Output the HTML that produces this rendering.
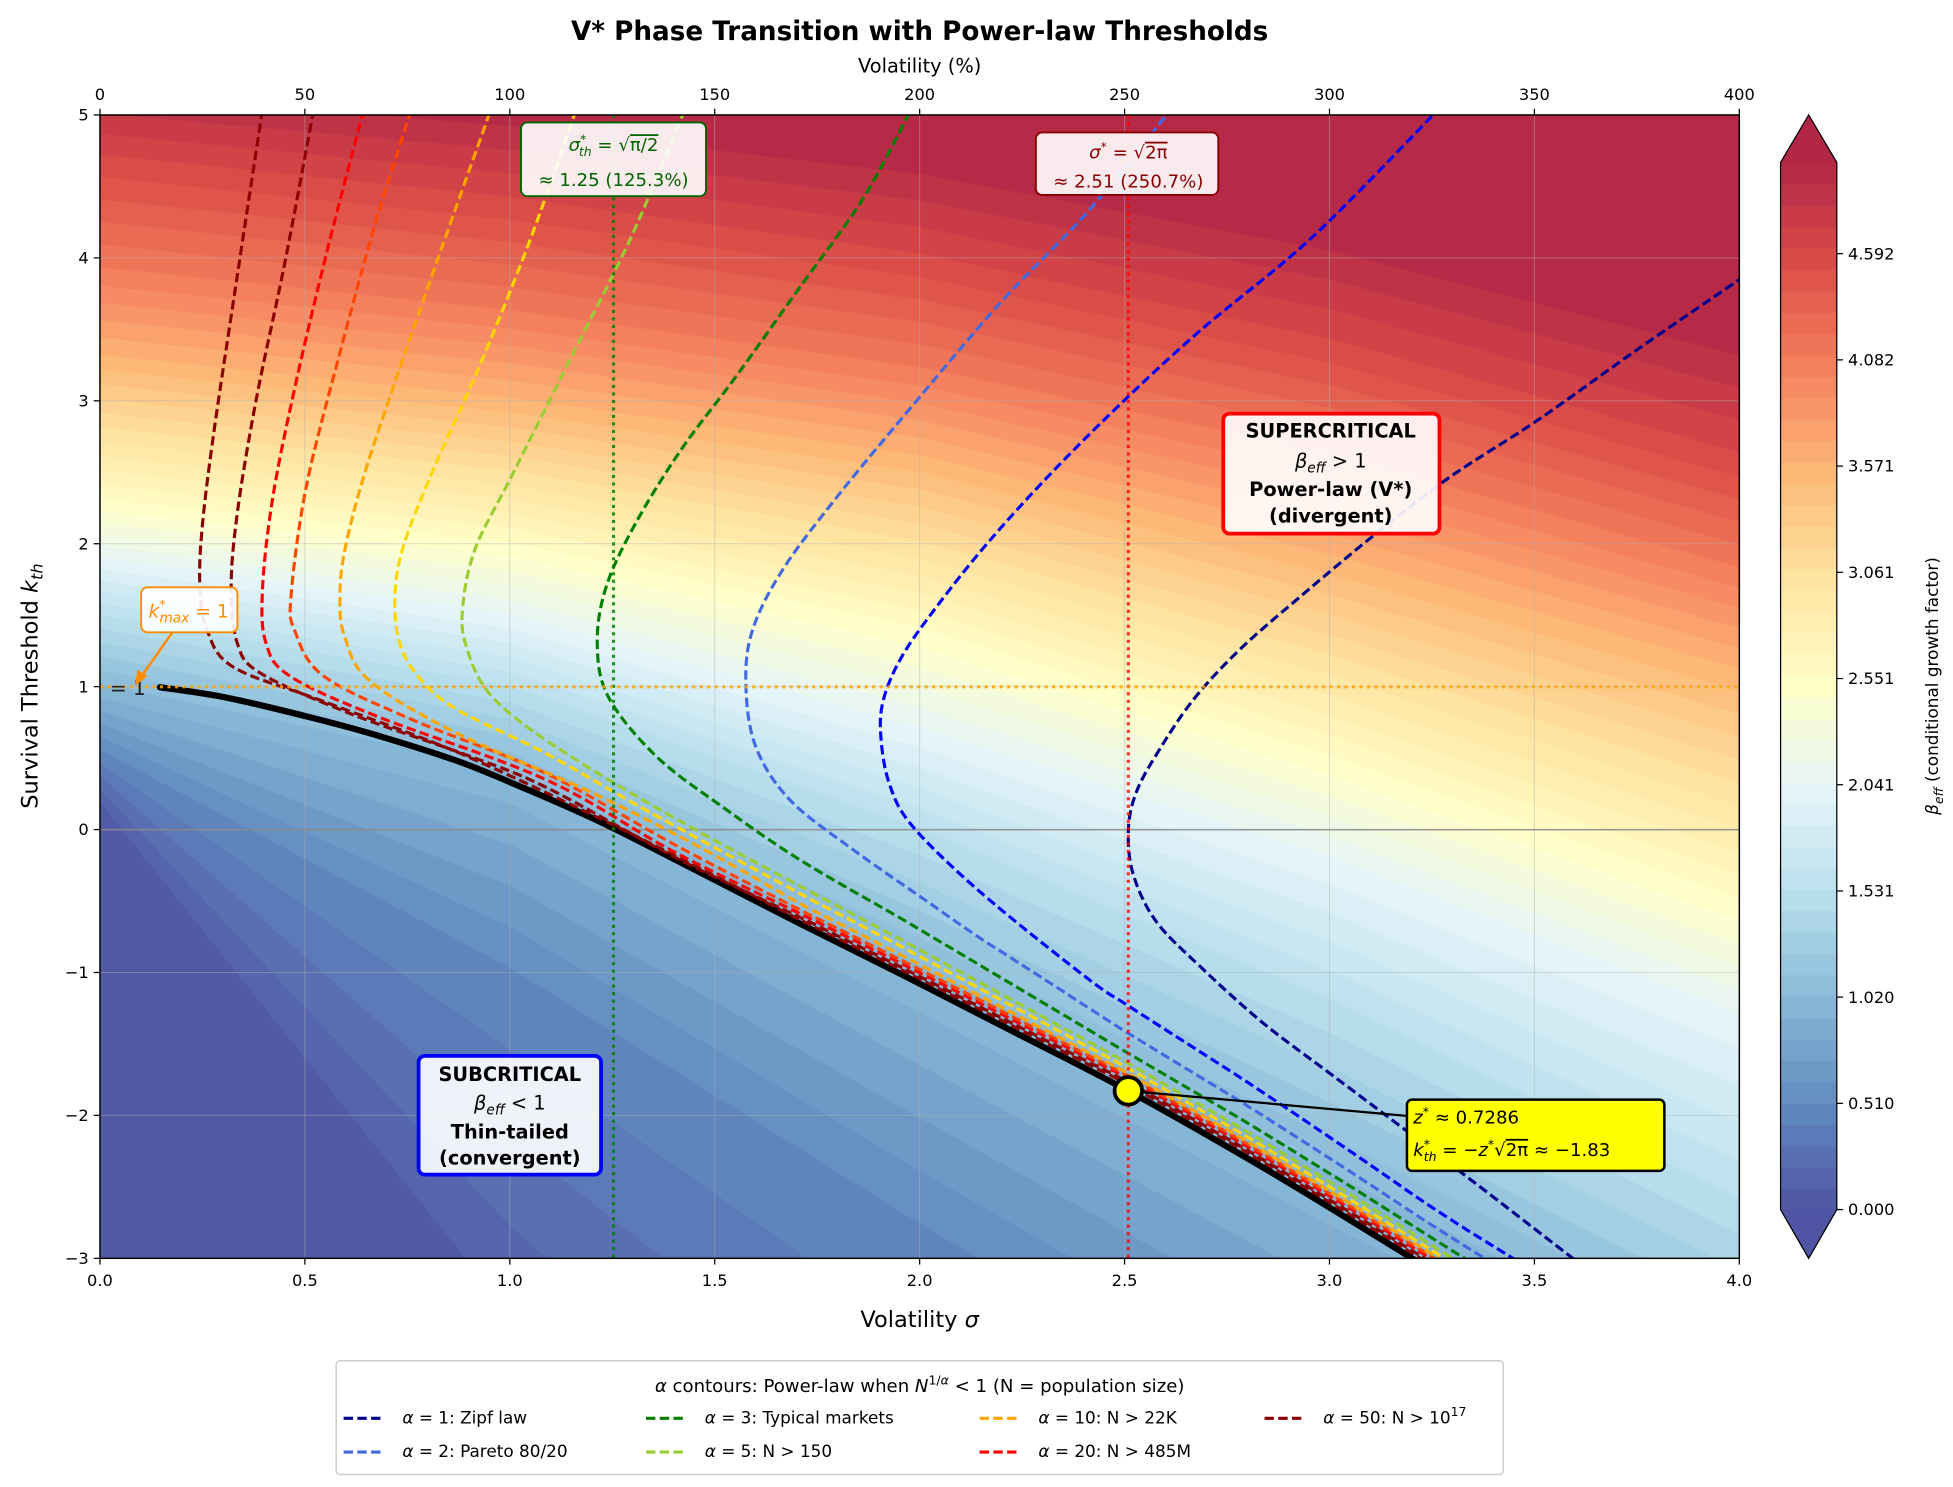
<!DOCTYPE html>
<html><head><meta charset="utf-8">
<style>
html,body{margin:0;padding:0;background:#fff;}
#wrap{position:relative;width:1953px;height:1487px;overflow:hidden;}
#cv{position:absolute;left:100px;top:115px;width:1640px;height:1144px;}
#sv{position:absolute;left:0;top:0;}
text{font-family:"DejaVu Sans","Liberation Sans",sans-serif;}
</style></head><body>
<div id="wrap">
<canvas id="cv" width="1640" height="1144"></canvas>
<svg id="sv" width="1953" height="1487" viewBox="0 0 1563 1190" preserveAspectRatio="none" xmlns="http://www.w3.org/2000/svg">
<defs><clipPath id="pc"><rect x="80" y="92" width="1312" height="915"/></clipPath></defs>
<g id="grid" stroke="#b0b0b0" stroke-opacity="0.45" stroke-width="0.8"></g>
<line x1="80" y1="664" x2="1392" y2="664" stroke="#888" stroke-width="1.3" opacity="0.8"/>
<g clip-path="url(#pc)" id="curves"></g>
<g clip-path="url(#pc)">
<line x1="491" y1="92" x2="491" y2="1007" stroke="#008000" stroke-width="2.5" stroke-dasharray="2.5,3.5" opacity="0.85"/>
<line x1="903" y1="92" x2="903" y2="1007" stroke="#ff0000" stroke-width="2.5" stroke-dasharray="2.5,3.5" opacity="0.8"/>
<line x1="80" y1="549.6" x2="1392" y2="549.6" stroke="#ffa500" stroke-width="2.5" stroke-dasharray="2.5,3.5" opacity="0.85"/>
<text x="88" y="556" font-size="16" fill="#222">= 1</text>
</g>
<rect x="80" y="92" width="1312" height="915" fill="none" stroke="#000" stroke-width="1.2"/>
<g id="ticks" font-size="13" fill="#000"></g>
<text x="736" y="32" font-size="21" font-weight="bold" text-anchor="middle">V* Phase Transition with Power-law  Thresholds</text>
<text x="736" y="58" font-size="15.5" text-anchor="middle">Volatility (%)</text>
<text x="736" y="1062" font-size="18" text-anchor="middle">Volatility <tspan font-style="italic">σ</tspan></text>
<text transform="translate(30,549) rotate(-90)" font-size="18" text-anchor="middle">Survival Threshold <tspan font-style="italic">k</tspan><tspan font-style="italic" font-size="13" dy="4">th</tspan></text>
<line x1="903" y1="873" x2="1126" y2="893" stroke="#000" stroke-width="1.8"/>
<circle cx="903" cy="873" r="11" fill="#ffff00" stroke="#000" stroke-width="3"/>
<rect x="417" y="98" width="148" height="59" rx="5" fill="#fff" fill-opacity="0.9" stroke="#006400" stroke-width="1.5"/>
<text x="491" y="121" font-size="14.5" fill="#006400" text-anchor="middle"><tspan font-style="italic">σ</tspan><tspan font-size="10" dy="-6">*</tspan><tspan font-size="10" font-style="italic" dy="10" dx="-6">th</tspan><tspan dy="-4"> = √</tspan><tspan text-decoration="overline">π/2</tspan></text>
<text x="491" y="149" font-size="14.5" fill="#006400" text-anchor="middle">≈ 1.25 (125.3%)</text>
<rect x="829" y="106" width="146" height="50" rx="5" fill="#fff" fill-opacity="0.9" stroke="#8b0000" stroke-width="1.5"/>
<text x="903" y="127" font-size="14.5" fill="#8b0000" text-anchor="middle"><tspan font-style="italic">σ</tspan><tspan font-size="10" dy="-6">*</tspan><tspan dy="6"> = √</tspan><tspan text-decoration="overline">2π</tspan></text>
<text x="903" y="150" font-size="14.5" fill="#8b0000" text-anchor="middle">≈ 2.51 (250.7%)</text>
<rect x="979" y="331" width="173" height="96" rx="5" fill="#fff" fill-opacity="0.9" stroke="#ff0000" stroke-width="3"/>
<text x="1065" y="350" font-size="15.5" font-weight="bold" text-anchor="middle">SUPERCRITICAL</text>
<text x="1065" y="374" font-size="15.5" text-anchor="middle"><tspan font-style="italic">β</tspan><tspan font-size="11" font-style="italic" dy="4">eff</tspan><tspan dy="-4"> &gt; 1</tspan></text>
<text x="1065" y="397" font-size="15.5" font-weight="bold" text-anchor="middle">Power-law (V*)</text>
<text x="1065" y="418" font-size="15.5" font-weight="bold" text-anchor="middle">(divergent)</text>
<rect x="335" y="845" width="146" height="95" rx="5" fill="#fff" fill-opacity="0.9" stroke="#0000ff" stroke-width="3"/>
<text x="408" y="865" font-size="15.5" font-weight="bold" text-anchor="middle">SUBCRITICAL</text>
<text x="408" y="888" font-size="15.5" text-anchor="middle"><tspan font-style="italic">β</tspan><tspan font-size="11" font-style="italic" dy="4">eff</tspan><tspan dy="-4"> &lt; 1</tspan></text>
<text x="408" y="911" font-size="15.5" font-weight="bold" text-anchor="middle">Thin-tailed</text>
<text x="408" y="932" font-size="15.5" font-weight="bold" text-anchor="middle">(convergent)</text>
<line x1="138" y1="506" x2="112" y2="543" stroke="#ff8c00" stroke-width="2"/>
<polygon points="108,549 110,536 118,541" fill="#ff8c00"/>
<rect x="113" y="470" width="77" height="36" rx="5" fill="#fff" fill-opacity="0.9" stroke="#ff8c00" stroke-width="1.5"/>
<text x="151" y="494" font-size="15" fill="#ff8c00" text-anchor="middle"><tspan font-style="italic">k</tspan><tspan font-size="10" dy="-7">*</tspan><tspan font-size="11" font-style="italic" dx="-5" dy="11">max</tspan><tspan dy="-4"> = 1</tspan></text>
<rect x="1126" y="880" width="206" height="57" rx="4" fill="#ffff00" stroke="#000" stroke-width="2"/>
<text x="1131" y="899" font-size="14.5"><tspan font-style="italic">z</tspan><tspan font-size="10" dy="-6">*</tspan><tspan dy="6"> ≈ 0.7286</tspan></text>
<text x="1131" y="925" font-size="14.5"><tspan font-style="italic">k</tspan><tspan font-size="10" dy="-6">*</tspan><tspan font-size="10" font-style="italic" dx="-5" dy="10">th</tspan><tspan dy="-4"> = −</tspan><tspan font-style="italic">z</tspan><tspan font-size="10" dy="-6">*</tspan><tspan dy="6">√</tspan><tspan text-decoration="overline">2π</tspan><tspan> ≈ −1.83</tspan></text>
<g id="cbar"></g>
<text transform="translate(1551,549) rotate(-90)" font-size="13.5" text-anchor="middle"><tspan font-style="italic">β</tspan><tspan font-size="10" font-style="italic" dy="4">eff</tspan><tspan dy="-4"> (conditional growth factor)</tspan></text>
<rect x="269" y="1089" width="934" height="91" rx="3" fill="#fff" stroke="#ccc" stroke-width="1.2"/>
<text x="736" y="1114" font-size="14.5" text-anchor="middle"><tspan font-style="italic">α</tspan> contours: Power-law  when <tspan font-style="italic">N</tspan><tspan font-size="10" dy="-6">1/<tspan font-style="italic">α</tspan></tspan><tspan dy="6"> &lt; 1 (N = population size)</tspan></text>
<g id="leg" font-size="13.5"></g>
</svg>
</div>
<script>
(function(){
var cv=document.getElementById('cv'),ctx=cv.getContext('2d');
var W=cv.width,H=cv.height;
var LV=[0,0.5,1,1.53,2.04,2.55,3.06,3.57,4.08,4.6,5.1];
var KK=[
[0.1,-4,-7,-9,-11],
[0.55,-1.0,-2.8,-4.5,-6],
[1,0.4,-1,-2.45,-3.9],
[1.5,1.0,0,-1.2,-2.6],
[1.9,1.5,0.7,-0.2,-1.3],
[2.3,2.0,1.4,0.5,-0.5],
[2.8,2.5,2.0,1.2,0.3],
[3.3,3.0,2.6,1.9,1.1],
[3.9,3.6,3.2,2.6,1.8],
[4.7,4.4,4.0,3.4,2.6],
[5.4,5.2,4.9,4.4,3.7]];
var CM=[[49,54,149],[69,117,180],[116,173,209],[171,217,233],[224,243,248],[255,255,191],[254,224,144],[253,174,97],[244,109,67],[215,48,39],[165,0,38]];
function cmap(t){t=Math.max(0,Math.min(1,t));var f=t*10,i=Math.min(9,Math.floor(f)),u=f-i;var a=CM[i],b=CM[i+1];
return [a[0]+(b[0]-a[0])*u,a[1]+(b[1]-a[1])*u,a[2]+(b[2]-a[2])*u];}
var img=ctx.createImageData(W,H),d=img.data;
var step=5.03/49;
var kl=new Array(LV.length);
for(var x=0;x<W;x++){
  var s=x/W*4;var si=Math.min(3,Math.floor(s)),su=s-si;
  for(var j=0;j<LV.length;j++)kl[j]=KK[j][si]+(KK[j][si+1]-KK[j][si])*su;
  for(var y=0;y<H;y++){
    var k=5-y/H*8,b;
    if(k<=kl[0])b=0;else if(k>=kl[LV.length-1])b=5.1;else{
      for(var j=0;j<LV.length-1;j++){if(k<kl[j+1]){b=LV[j]+(LV[j+1]-LV[j])*(k-kl[j])/(kl[j+1]-kl[j]);break;}}
    }
    var q=Math.min(48,Math.floor(b/step));var c=cmap((q+0.5)/49);
    var p=(y*W+x)*4;
    d[p]=c[0]*0.85+38.25;d[p+1]=c[1]*0.85+38.25;d[p+2]=c[2]*0.85+38.25;d[p+3]=255;
  }
}
ctx.putImageData(img,0,0);
var NS='http://www.w3.org/2000/svg';
function el(tag,attrs,parent,txt){var e=document.createElementNS(NS,tag);for(var a in attrs)e.setAttribute(a,attrs[a]);if(txt!==undefined)e.textContent=txt;parent.appendChild(e);return e;}
var g=document.getElementById('grid'),tk=document.getElementById('ticks');
for(var i=0;i<=8;i++){var X=80+i*164;
  if(i>0&&i<8)el('line',{x1:X,y1:92,x2:X,y2:1007},g);
  el('line',{x1:X,y1:1007,x2:X,y2:1012,stroke:'#000'},tk);
  el('line',{x1:X,y1:92,x2:X,y2:87,stroke:'#000'},tk);
  el('text',{x:X,y:1029,'text-anchor':'middle'},tk,(i*0.5).toFixed(1));
  el('text',{x:X,y:80,'text-anchor':'middle'},tk,String(i*50));
}
for(var i=0;i<=8;i++){var Y=1007-i*114.375;var v=i-3;
  if(i>0&&i<8)el('line',{x1:80,y1:Y,x2:1392,y2:Y},g);
  el('line',{x1:75,y1:Y,x2:80,y2:Y,stroke:'#000'},tk);
  el('text',{x:71,y:Y+4.5,'text-anchor':'end'},tk,v<0?'\u2212'+(-v):String(v));
}
function path(pts){var s='M'+pts[0][0].toFixed(1)+','+pts[0][1].toFixed(1);
  for(var i=0;i<pts.length-1;i++){var p0=pts[Math.max(0,i-1)],p1=pts[i],p2=pts[i+1],p3=pts[Math.min(pts.length-1,i+2)];
    var c1=[p1[0]+(p2[0]-p0[0])/6,p1[1]+(p2[1]-p0[1])/6],c2=[p2[0]-(p3[0]-p1[0])/6,p2[1]-(p3[1]-p1[1])/6];
    s+=' C'+c1[0].toFixed(1)+','+c1[1].toFixed(1)+' '+c2[0].toFixed(1)+','+c2[1].toFixed(1)+' '+p2[0].toFixed(1)+','+p2[1].toFixed(1);}
  return s;}
var cg=document.getElementById('curves');
var black=[[128,550],[180,558],[244,573],[300,588],[366,609],[420,631],[483,659],[560,698],[640,739],[720,779],[800,820],[903,873],[1000,928],[1070,970],[1135,1010]];
function bY(x){for(var i=0;i<black.length-1;i++){if(x<=black[i+1][0]){var a=black[i],b=black[i+1];return a[1]+(b[1]-a[1])*(x-a[0])/(b[0]-a[0]);}}return 1010+(x-1135)*0.62;}
el('path',{d:path(black),fill:'none',stroke:'#000','stroke-width':5,'stroke-linecap':'round'},cg);
function tail(o1,o2,o3){var r=[];for(var x=660;x<=1290;x+=30){var o;
  if(x<903)o=o1+(o2-o1)*(x-640)/263;else o=o2+(o3-o2)*Math.min(1,(x-903)/250);
  var y=bY(x)-o;r.push([x,y]);if(y>1015)break;}return r;}
var C=[
['#8b0000',[[210,88],[190,220],[172,340],[162,420],[160,470],[166,505],[187,534],[258,561],[366,602],[480,655],[570,700],[640,736]].concat(tail(3,5,4))],
['#8b0000',[[251,88],[228,210],[205,320],[190,410],[185,470],[190,515],[209,539],[280,571],[370,603],[437,630],[540,686],[640,734]].concat(tail(5,7,6))],
['#ff0000',[[291,88],[262,200],[236,310],[218,400],[210,473],[213,515],[232,541],[301,573],[437,624],[540,682],[640,731]].concat(tail(8,10,9))],
['#ff4500',[[329,88],[300,180],[270,290],[245,390],[233,476],[236,505],[259,541],[330,576],[437,619],[540,676],[640,728]].concat(tail(11,12,11))],
['#ffa500',[[392,90],[360,180],[325,280],[293,375],[276,440],[272,480],[276,510],[296,545],[366,587],[473,634],[560,678],[640,723]].concat(tail(16,14,13))],
['#ffd700',[[461,88],[425,190],[385,290],[345,380],[322,440],[316,480],[320,515],[336,543],[366,568],[437,603],[520,650],[640,715]].concat(tail(24,18,16))],
['#9acd32',[[548,88],[505,190],[455,290],[410,380],[380,440],[370,490],[374,520],[390,553],[425,584],[487,624],[562,667],[640,709]].concat(tail(30,22,20))],
['#008000',[[728,90],[690,160],[640,230],[590,300],[545,360],[508,420],[485,470],[478,515],[487,558],[526,606],[580,647],[640,688]].concat(tail(51,30,26).slice(2))],
['#4169e1',[[932,94],[870,170],[800,243],[730,325],[672,395],[627,455],[602,505],[597,550],[605,598],[632,640],[680,678],[740,720]].concat(tail(80,46,36).slice(4))],
['#0000ff',[[1146,93],[1050,190],[960,265],[895,325],[840,380],[790,435],[750,485],[722,525],[707,560],[705,590],[712,628],[731,662],[787,716]].concat(tail(110,68,50).slice(7))],
['#00008b',[[1396,221],[1310,280],[1231,336],[1160,382],[1100,428],[1040,478],[992,520],[955,560],[926,603],[909,635],[903,665],[907,700],[925,737],[960,773],[1010,818],[1067,861],[1127,906],[1190,954],[1260,1008]]]
];
C.forEach(function(c){el('path',{d:path(c[1]),fill:'none',stroke:c[0],'stroke-width':2.5,'stroke-dasharray':'7.5,3.5'},cg);});
var cb=document.getElementById('cbar');
var top=130,bot=968,n=49,h=(bot-top)/n;
function rgb(c){return 'rgb('+Math.round(c[0]*0.85+38)+','+Math.round(c[1]*0.85+38)+','+Math.round(c[2]*0.85+38)+')';}
for(var i=0;i<n;i++){el('rect',{x:1425,y:(bot-(i+1)*h).toFixed(2),width:45,height:(h+0.6).toFixed(2),fill:rgb(cmap((i+0.5)/n))},cb);}
el('polygon',{points:'1425,130 1447.5,92 1470,130',fill:rgb(cmap(1))},cb);
el('polygon',{points:'1425,968 1447.5,1007 1470,968',fill:rgb(cmap(0))},cb);
el('polygon',{points:'1425,130 1447.5,92 1470,130 1470,968 1447.5,1007 1425,968',fill:'none',stroke:'#000','stroke-width':1},cb);
var labs=['0.000','0.510','1.020','1.531','2.041','2.551','3.061','3.571','4.082','4.592'];
for(var i=0;i<labs.length;i++){var Y=968-i*85;el('line',{x1:1470,y1:Y,x2:1475,y2:Y,stroke:'#000'},cb);
  el('text',{x:1479,y:Y+4.5,'font-size':13},cb,labs[i]);}
var lg=document.getElementById('leg');
var L=[[275,1139,'#00008b','= 1: Zipf law'],[275,1166,'#4169e1','= 2: Pareto 80/20'],[517,1139,'#008000','= 3: Typical markets'],[517,1166,'#9acd32','= 5: N > 150'],[784,1139,'#ffa500','= 10: N > 22K'],[784,1166,'#ff0000','= 20: N > 485M'],[1012,1139,'#8b0000','= 50: N > 10']];
L.forEach(function(l,i){el('line',{x1:l[0],y1:l[1]-4,x2:l[0]+30,y2:l[1]-4,stroke:l[2],'stroke-width':2.5,'stroke-dasharray':'7.5,3.5'},lg);
  var t=el('text',{x:l[0]+47,y:l[1]},lg);el('tspan',{'font-style':'italic'},t,'\u03b1 ');el('tspan',{},t,l[3]);
  if(i==6){el('tspan',{'font-size':10,dy:-6},t,'17');}
});
})();
</script>
</body></html>
